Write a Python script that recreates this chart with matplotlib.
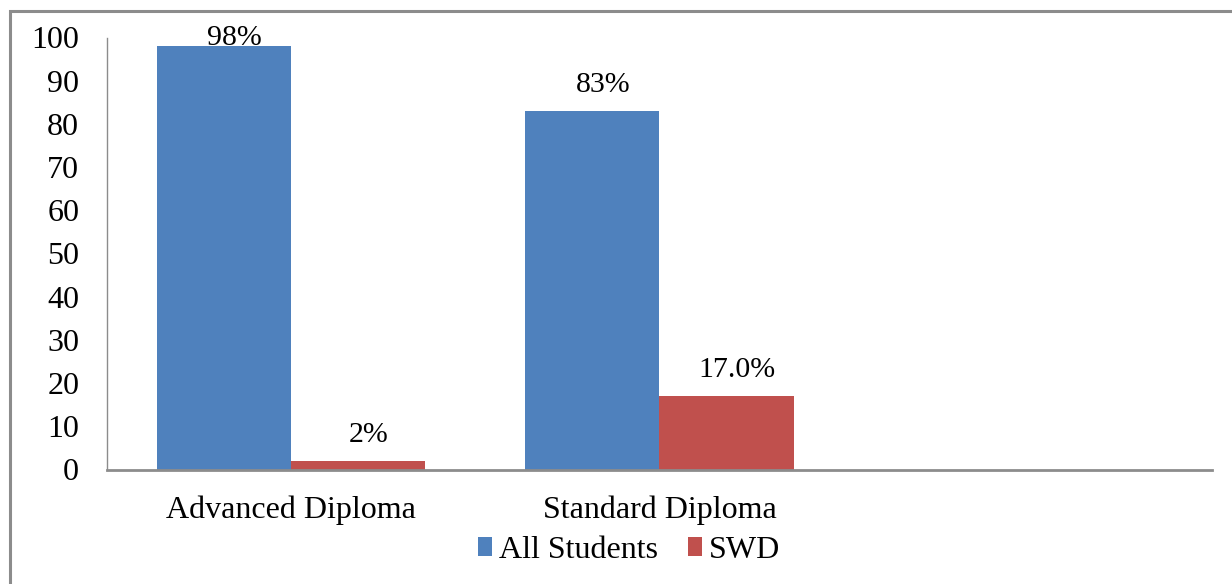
import numpy as np
import matplotlib
matplotlib.use("Agg")
import matplotlib.pyplot as plt
from matplotlib.patches import Rectangle

plt.rcParams['font.family'] = ['Liberation Serif', 'DejaVu Serif']

# dati
categories = ["Advanced Diploma", "Standard Diploma", ""]
all_students = [98, 83, np.nan]
swd = [2, 17, np.nan]
all_labels = ["98%", "83%", ""]
swd_labels = ["2%", "17.0%", ""]
series_names = ["All Students", "SWD"]

blue = "#4F81BD"
red = "#C0504D"
grey = "#8C8C8C"

fig = plt.figure(figsize=(12.32, 5.84), dpi=100)
ax = fig.add_axes([107/1232, 1 - 469.5/584, (1212 - 107)/1232, (469.5 - 37.5)/584])

x = np.arange(len(categories))
w = 0.364

b1 = ax.bar(x - w/2, all_students, width=w, color=blue, label=series_names[0])
b2 = ax.bar(x + w/2, swd, width=w, color=red, label=series_names[1])

# etichette sopra le barre (la prima finisce sul bordo in alto)
for bars, labels in [(b1, all_labels), (b2, swd_labels)]:
    for rect, lab in zip(bars, labels):
        if not lab:
            continue
        h = rect.get_height()
        ax.text(rect.get_x() + rect.get_width()/2 + 0.028, min(h + 6.1, 99.8), lab,
                ha="center", va="center", fontsize=21.5, clip_on=False)

ax.set_xlim(-0.5, 2.5)
ax.set_ylim(0, 100)
ax.set_yticks(np.arange(0, 101, 10))
ax.set_xticks(x)
ax.set_xticklabels(categories)
ax.tick_params(axis="y", length=0, pad=20, labelsize=23)
ax.tick_params(axis="x", length=0, pad=19, labelsize=23)

for s in ["top", "right"]:
    ax.spines[s].set_visible(False)
ax.spines["left"].set_color(grey)
ax.spines["left"].set_linewidth(1.0)
ax.spines["bottom"].set_color(grey)
ax.spines["bottom"].set_linewidth(2.0)

ax.legend(loc="center", bbox_to_anchor=(629/1232, 1 - 550/584), bbox_transform=fig.transFigure,
          ncol=2, frameon=False, fontsize=23, handlelength=0.45, handleheight=0.53,
          handletextpad=0.2, columnspacing=0.95, borderpad=0)

# cornice grigia attorno al grafico (tagliata a destra e in basso)
fig.add_artist(Rectangle((10/1232, -0.2), 1.5, 1 - 11/584 + 0.2, transform=fig.transFigure,
                         fill=False, edgecolor=grey, linewidth=2.2))

fig.savefig("out.png", dpi=100)
